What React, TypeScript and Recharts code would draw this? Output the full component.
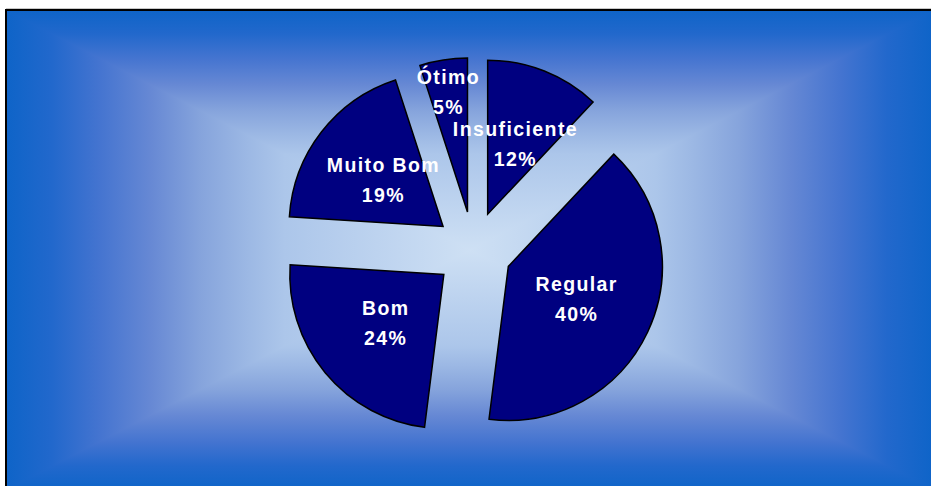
import React from 'react';
import { PieChart, Pie, Sector } from 'recharts';

const categories = ['Insuficiente', 'Regular', 'Bom', 'Muito Bom', 'Ótimo'];
const percentages = [12, 40, 24, 19, 5];

const data = categories.map((name, i) => ({ name, value: percentages[i] }));

const RADIAN = Math.PI / 180;
const EXPLODE = 0.25;

// colours of the "from centre" background, edge -> centre
const bgStops = [
  { offset: 0, color: '#0e64c8' },
  { offset: 0.1, color: '#2268cc' },
  { offset: 0.2, color: '#4474d0' },
  { offset: 0.31, color: '#6688d4' },
  { offset: 0.42, color: '#86a4dc' },
  { offset: 0.52, color: '#9cb8e4' },
  { offset: 0.6, color: '#acc6ea' },
  { offset: 1, color: '#cee0f4' },
];

function explodeOffset(midAngle: number, outerRadius: number) {
  const d = outerRadius * EXPLODE;
  return { dx: d * Math.cos(-midAngle * RADIAN), dy: d * Math.sin(-midAngle * RADIAN) };
}

function ExplodedSector(props: any) {
  const { cx, cy, midAngle, outerRadius } = props;
  const { dx, dy } = explodeOffset(midAngle, outerRadius);
  return <Sector {...props} cx={cx + dx} cy={cy + dy} />;
}

function renderLabel(props: any) {
  const { cx, cy, midAngle, outerRadius, name, percent } = props;
  const { dx, dy } = explodeOffset(midAngle, outerRadius);
  // small slices get their label pushed further out
  const r = outerRadius * (percent < 0.08 ? 0.79 : 0.49);
  const x = cx + dx + r * Math.cos(-midAngle * RADIAN);
  const y = cy + dy + r * Math.sin(-midAngle * RADIAN);
  return (
    <text
      x={x}
      y={y}
      fill="#ffffff"
      textAnchor="middle"
      fontFamily="'Liberation Sans', Arial, sans-serif"
      fontWeight="bold"
      fontSize={19.5}
      letterSpacing={1.4}
    >
      <tspan x={x} y={y - 8}>{name}</tspan>
      <tspan x={x} y={y + 22}>{`${Math.round(percent * 100)}%`}</tspan>
    </text>
  );
}

function Background() {
  const l = 6, t = 10, r = 934, b = 490;
  const mx = 470, my = 250;
  const stops = bgStops.map((s) => <stop key={s.offset} offset={s.offset} stopColor={s.color} />);
  const mirrored = [...bgStops, ...bgStops.slice(0, -1).reverse().map((s) => ({ ...s, offset: 2 - s.offset }))]
    .map((s, i) => <stop key={i} offset={s.offset / 2} stopColor={s.color} />);
  return (
    <svg width={931} height={486} style={{ position: 'absolute', left: 0, top: 0 }}>
      <defs>
        <linearGradient id="bgH" gradientUnits="userSpaceOnUse" x1={l} y1={0} x2={r} y2={0}>{mirrored}</linearGradient>
        <linearGradient id="bgT" gradientUnits="userSpaceOnUse" x1={0} y1={t} x2={0} y2={my}>{stops}</linearGradient>
        <linearGradient id="bgB" gradientUnits="userSpaceOnUse" x1={0} y1={b} x2={0} y2={my}>{stops}</linearGradient>
      </defs>
      <rect x={l} y={t} width={r - l} height={b - t} fill="url(#bgH)" />
      <polygon points={`${l},${t} ${r},${t} ${mx},${my}`} fill="url(#bgT)" />
      <polygon points={`${l},${b} ${r},${b} ${mx},${my}`} fill="url(#bgB)" />
      <line x1={l} y1={t - 1.5} x2={r} y2={t - 1.5} stroke="#c8c8c8" strokeWidth={1} />
      <rect x={l} y={t} width={r - l} height={b - t} fill="none" stroke="#000000" strokeWidth={2} />
    </svg>
  );
}

export default function App() {
  return (
    <div style={{ position: 'absolute', left: 0, top: 0, width: 931, height: 486, background: '#ffffff' }}>
      <Background />
      <div style={{ position: 'absolute', left: 0, top: 0 }}>
        <PieChart width={931} height={486} margin={{ top: 0, right: 0, bottom: 0, left: 0 }}>
          <Pie
            data={data}
            dataKey="value"
            nameKey="name"
            cx={473.5}
            cy={250}
            outerRadius={154}
            startAngle={90}
            endAngle={-270}
            fill="#000080"
            stroke="#000000"
            strokeWidth={1.5}
            shape={ExplodedSector}
            label={renderLabel}
            labelLine={false}
            isAnimationActive={false}
          />
        </PieChart>
      </div>
    </div>
  );
}
